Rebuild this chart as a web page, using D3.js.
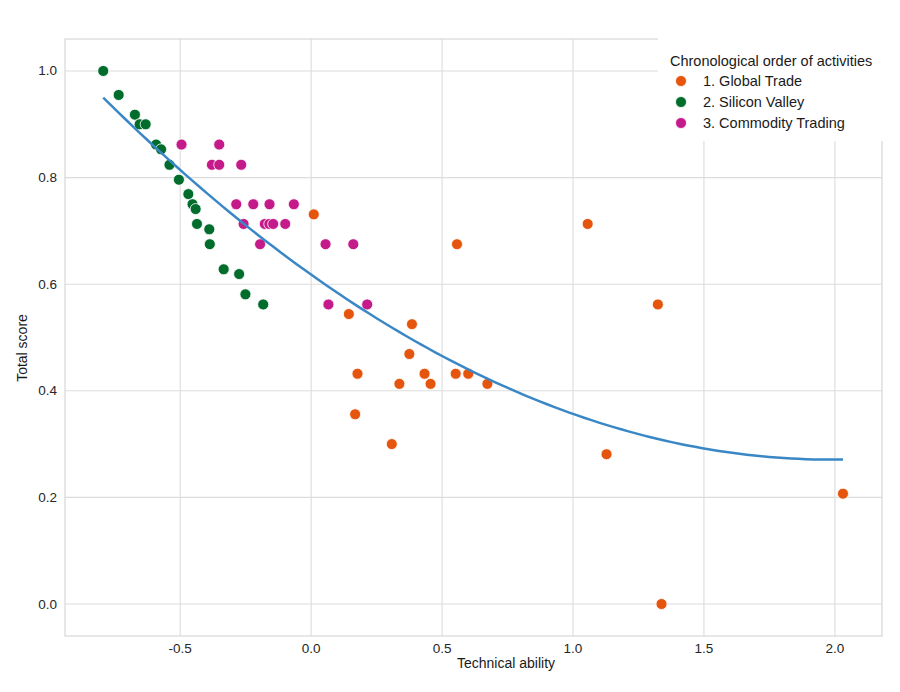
<!DOCTYPE html>
<html>
  <head>
    <meta charset="utf-8">
    <script src="https://d3js.org/d3.v7.min.js"></script>
    <style>
      body { margin: 0; background: #fff; }
      svg { display: block; font-family: "Liberation Sans", Arial, sans-serif; }
    </style>
  </head>
<body>
<script>
"use strict";

// 1. Global Trade
var tradeX = [0.01, 0.557, 0.144, 0.385, 0.375, 0.177, 0.337, 0.433, 0.456, 0.552, 0.600, 0.673, 0.168, 0.308, 1.056, 1.324, 1.128, 2.031, 1.338];
var tradeY = [0.731, 0.675, 0.544, 0.525, 0.469, 0.432, 0.413, 0.432, 0.413, 0.432, 0.432, 0.413, 0.356, 0.300, 0.713, 0.562, 0.281, 0.207, 0.0];

// 2. Silicon Valley
var valleyX = [-0.794, -0.735, -0.673, -0.655, -0.632, -0.592, -0.573, -0.541, -0.505, -0.469, -0.453, -0.441, -0.436, -0.389, -0.387, -0.334, -0.275, -0.251, -0.183];
var valleyY = [1.0, 0.955, 0.918, 0.900, 0.900, 0.862, 0.853, 0.824, 0.796, 0.769, 0.750, 0.741, 0.713, 0.703, 0.675, 0.628, 0.619, 0.581, 0.562];

// 3. Commodity Trading
var commodityX = [-0.495, -0.351, -0.379, -0.351, -0.267, -0.286, -0.221, -0.159, -0.066, -0.258, -0.177, -0.160, -0.145, -0.099, -0.195, 0.055, 0.161, 0.066, 0.214];
var commodityY = [0.862, 0.862, 0.824, 0.824, 0.824, 0.750, 0.750, 0.750, 0.750, 0.713, 0.713, 0.713, 0.713, 0.713, 0.675, 0.675, 0.675, 0.562, 0.562];

var groupNames = ["1. Global Trade", "2. Silicon Valley", "3. Commodity Trading"];
var groupColors = ["#e6550d", "#006d2c", "#c51b8a"];

var xTicks = [-0.5, 0.0, 0.5, 1.0, 1.5, 2.0];
var yTicks = [0.0, 0.2, 0.4, 0.6, 0.8, 1.0];

function fmt(d) {
    // plain hyphen for negatives, as in the original
    return d3.format(".1f")(d).replace("\u2212", "-");
}

function draw() {
    var width = 900, height = 692;
    var mLeft = 65, mRight = 882, mTop = 39, mBottom = 636;

    var svg = d3.select("body").append("svg")
        .attr("width", width)
        .attr("height", height);

    var x = d3.scaleLinear().domain([-0.94, 2.18]).range([mLeft, mRight]);
    var y = d3.scaleLinear().domain([-0.06, 1.06]).range([mBottom, mTop]);

    // grid
    svg.append("g").selectAll("line").data(xTicks).enter().append("line")
        .attr("x1", function(d) { return x(d); })
        .attr("x2", function(d) { return x(d); })
        .attr("y1", mTop).attr("y2", mBottom)
        .style("stroke", "#dcdcdc").style("stroke-width", 1.1);
    svg.append("g").selectAll("line").data(yTicks).enter().append("line")
        .attr("x1", mLeft).attr("x2", mRight)
        .attr("y1", function(d) { return y(d); })
        .attr("y2", function(d) { return y(d); })
        .style("stroke", "#dcdcdc").style("stroke-width", 1.1);

    // frame
    svg.append("rect")
        .attr("x", mLeft).attr("y", mTop)
        .attr("width", mRight - mLeft).attr("height", mBottom - mTop)
        .style("fill", "none").style("stroke", "#d4d4d4").style("stroke-width", 1.1);

    // tick labels
    svg.append("g").selectAll("text").data(xTicks).enter().append("text")
        .attr("x", function(d) { return x(d); })
        .attr("y", 653)
        .attr("text-anchor", "middle")
        .style("font-size", "13.5px").style("fill", "#262626")
        .text(fmt);
    svg.append("g").selectAll("text").data(yTicks).enter().append("text")
        .attr("x", 57)
        .attr("y", function(d) { return y(d) + 4.5; })
        .attr("text-anchor", "end")
        .style("font-size", "13.5px").style("fill", "#262626")
        .text(fmt);

    // axis titles
    svg.append("text")
        .attr("x", 506).attr("y", 668)
        .attr("text-anchor", "middle")
        .style("font-size", "14px").style("fill", "#1a1a1a")
        .text("Technical ability");
    svg.append("text")
        .attr("transform", "translate(27,348) rotate(-90)")
        .attr("text-anchor", "middle")
        .style("font-size", "14px").style("fill", "#1a1a1a")
        .text("Total score");

    // points
    var groups = [
        { xs: tradeX, ys: tradeY },
        { xs: valleyX, ys: valleyY },
        { xs: commodityX, ys: commodityY }
    ];
    var allX = [], allY = [];
    groups.forEach(function(g, i) {
        var pts = g.xs.map(function(v, j) { return [v, g.ys[j]]; });
        pts.forEach(function(p) { allX.push(p[0]); allY.push(p[1]); });
        svg.append("g").selectAll("circle").data(pts).enter().append("circle")
            .attr("cx", function(d) { return x(d[0]); })
            .attr("cy", function(d) { return y(d[1]); })
            .attr("r", 5.5)
            .style("fill", groupColors[i])
            .style("stroke", "#fff")
            .style("stroke-width", 0.8);
    });

    // second order regression fit over all points (like regplot order=2)
    var coef = quadFit(allX, allY);
    var x0 = d3.min(allX), x1 = d3.max(allX);
    var fit = d3.range(0, 101).map(function(i) {
        var xv = x0 + (x1 - x0) * i / 100;
        return [xv, coef[0] + coef[1] * xv + coef[2] * xv * xv];
    });
    svg.append("path")
        .datum(fit)
        .attr("d", d3.line().x(function(d) { return x(d[0]); }).y(function(d) { return y(d[1]); }))
        .style("fill", "none")
        .style("stroke", "#3a87c6")
        .style("stroke-width", 2.5);

    // legend
    var legend = svg.append("g");
    legend.append("rect")
        .attr("x", 658).attr("y", 36)
        .attr("width", 234).attr("height", 105)
        .style("fill", "#fff");
    legend.append("text")
        .attr("x", 670).attr("y", 66)
        .style("font-size", "14.5px").style("fill", "#1a1a1a")
        .text("Chronological order of activities");
    groupNames.forEach(function(name, i) {
        legend.append("circle")
            .attr("cx", 681).attr("cy", 81 + i * 21)
            .attr("r", 5.5)
            .style("fill", groupColors[i])
            .style("stroke", "#fff").style("stroke-width", 0.8);
        legend.append("text")
            .attr("x", 703).attr("y", 86 + i * 21)
            .style("font-size", "14.5px").style("fill", "#1a1a1a")
            .text(name);
    });
}

function quadFit(xs, ys) {
    // least squares for y = b0 + b1 x + b2 x^2
    var s = [0, 0, 0, 0, 0], t = [0, 0, 0];
    xs.forEach(function(v, i) {
        for (var k = 0; k < 5; k++) s[k] += Math.pow(v, k);
        for (var k2 = 0; k2 < 3; k2++) t[k2] += ys[i] * Math.pow(v, k2);
    });
    var A = [[s[0], s[1], s[2], t[0]], [s[1], s[2], s[3], t[1]], [s[2], s[3], s[4], t[2]]];
    for (var c = 0; c < 3; c++) {
        for (var r = c + 1; r < 3; r++) {
            var f = A[r][c] / A[c][c];
            for (var k3 = c; k3 < 4; k3++) A[r][k3] -= f * A[c][k3];
        }
    }
    var b = [0, 0, 0];
    for (var r2 = 2; r2 >= 0; r2--) {
        var sum = A[r2][3];
        for (var k4 = r2 + 1; k4 < 3; k4++) sum -= A[r2][k4] * b[k4];
        b[r2] = sum / A[r2][r2];
    }
    return b;
}

draw();
</script>
</body>
</html>
